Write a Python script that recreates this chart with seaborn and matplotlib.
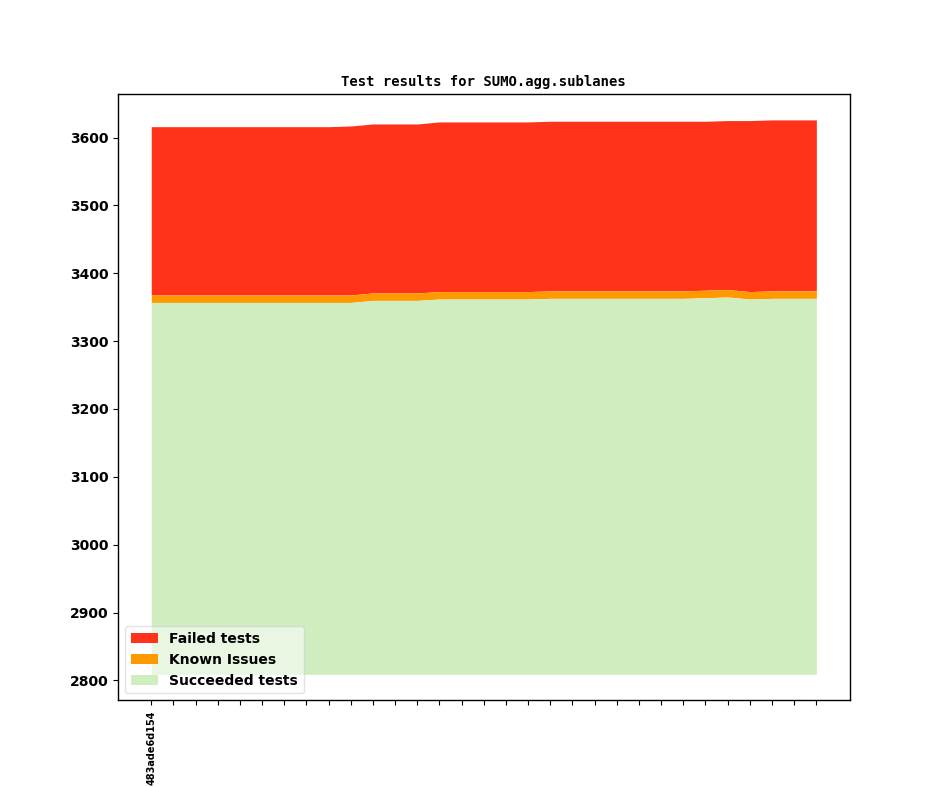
import numpy as np
import pandas as pd
import matplotlib
matplotlib.use("Agg")
import matplotlib.pyplot as plt
import seaborn as sns

# ---- data ----
revisions = ["483ade6d154"] + [""] * 30
succeeded = [3357] * 10 + [3360] * 3 + [3362] * 5 + [3363] * 7 + [3364, 3365, 3362, 3363, 3363, 3363]
known_issues = [11] * 31
totals = [3616] * 9 + [3617] + [3620] * 3 + [3623] * 5 + [3624] * 7 + [3624, 3625, 3625, 3626, 3626, 3626]
baseline = 2809
y_ticks = [2800, 2900, 3000, 3100, 3200, 3300, 3400, 3500, 3600]
y_limits = (2770.5, 3663.5)

series_names = ["Failed tests", "Known Issues", "Succeeded tests"]
series_colors = ["#ff3319", "#ff9900", "#d0edc0"]

df = pd.DataFrame({
    "rev": np.arange(len(revisions)),
    "succeeded": succeeded,
    "known": known_issues,
    "total": totals,
})
df["ok_known"] = df["succeeded"] + df["known"]

sns.set_style("white")
plt.rcParams.update({"xtick.bottom": True, "ytick.left": True,
                     "axes.edgecolor": "black", "axes.linewidth": 1.0,
                     "text.color": "black", "xtick.color": "black",
                     "ytick.color": "black", "axes.labelcolor": "black",
                     "font.family": ["DejaVu Sans"]})
palette = sns.color_palette(series_colors)

fig = plt.figure(figsize=(9.44, 7.87), dpi=100)
ax = fig.add_subplot(111)

ax.fill_between(df["rev"], df["ok_known"], df["total"], color=palette[0],
                linewidth=0, label=series_names[0])
ax.fill_between(df["rev"], df["succeeded"], df["ok_known"], color=palette[1],
                linewidth=0, label=series_names[1])
ax.fill_between(df["rev"], baseline, df["succeeded"], color=palette[2],
                linewidth=0, label=series_names[2])

ax.set_title("Test results for SUMO.agg.sublanes", family="DejaVu Sans Mono",
             fontweight="bold", fontsize=10, color="black")
ax.set_xticks(df["rev"])
ax.set_xticklabels(revisions, rotation=90, fontweight="bold", fontsize=7)
ax.set_yticks(y_ticks)
ax.set_ylim(*y_limits)
for lab in ax.get_yticklabels():
    lab.set_fontweight("bold")
    lab.set_fontsize(10)
ax.tick_params(direction="out", length=3.5, width=0.8, color="black")
for s in ax.spines.values():
    s.set_visible(True)
    s.set_color("black")

leg = ax.legend(loc="lower left", prop={"weight": "bold", "size": 10},
                framealpha=0.55, edgecolor="0.8")

fig.subplots_adjust(left=0.125, right=0.9, bottom=0.11, top=0.88)
fig.savefig("out.png", dpi=100)
